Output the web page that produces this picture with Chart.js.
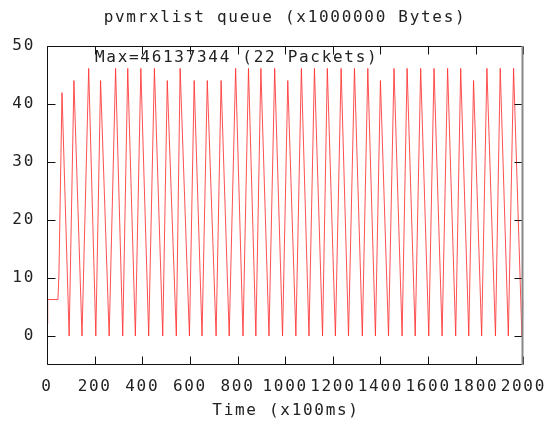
<!DOCTYPE html>
<html>
<head>
<meta charset="utf-8">
<script src="https://cdn.jsdelivr.net/npm/chart.js@4.4.0/dist/chart.umd.min.js"></script>
<style>
  html, body { margin: 0; padding: 0; background: #fff; }
  #wrap { width: 558px; height: 424px; }
</style>
</head>
<body>
<div id="wrap"><canvas id="queueChart" width="558" height="424"></canvas></div>
<script>
// tick labels
const timeTicks = [0, 200, 400, 600, 800, 1000, 1200, 1400, 1600, 1800, 2000];
const queueTicks = [0, 10, 20, 30, 40, 50];

// turning points of the queue trace (x100ms, x1000000 bytes)
const sampleTime = [
    0, 3, 46, 50, 63,
    93, 113, 147, 175, 205, 225, 261, 288, 318, 339,
    371, 394, 427, 451, 486, 505, 543, 559, 598, 618,
    651, 673, 710, 731, 765, 792, 823, 846, 877, 898,
    932, 956, 989, 1011, 1045, 1068, 1100, 1123, 1157, 1177,
    1211, 1235, 1266, 1291, 1324, 1347, 1379, 1400, 1434, 1457,
    1491, 1512, 1546, 1569, 1603, 1625, 1659, 1682, 1716, 1737,
    1771, 1791, 1825, 1847, 1883, 1903, 1937, 1959,
    1994, 2000
];
const queueSize = [
    2.10, 6.29, 6.29, 10.49, 41.94,
    0, 44.04, 0, 46.14, 0, 44.04, 0, 46.14, 0, 46.14,
    0, 46.14, 0, 46.14, 0, 44.04, 0, 46.14, 0, 44.04,
    0, 44.04, 0, 44.04, 0, 46.14, 0, 46.14, 0, 46.14,
    0, 46.14, 0, 44.04, 0, 46.14, 0, 46.14, 0, 46.14,
    0, 46.14, 0, 46.14, 0, 46.14, 0, 44.04, 0, 46.14,
    0, 46.14, 0, 46.14, 0, 46.14, 0, 46.14, 0, 46.14,
    0, 44.04, 0, 46.14, 0, 46.14, 0, 46.14,
    0, 6.29
];

const chartTitle = 'pvmrxlist queue (x1000000 Bytes)';
const xTitle = 'Time (x100ms)';
const maxLabel = 'Max=46137344 (22 Packets)';

const FONT = '16px "DejaVu Sans Mono", monospace';
const SPACING = '1.7px';

Chart.defaults.font.family = '"DejaVu Sans Mono", monospace';
Chart.defaults.font.size = 16;
Chart.defaults.color = '#222';

// the reference lettering is widely spaced
const spacingPlugin = {
    id: 'spacing',
    beforeLayout(chart) { chart.ctx.letterSpacing = SPACING; },
    beforeDraw(chart) { chart.ctx.letterSpacing = SPACING; }
};

// box, inward ticks, titles and the max note
const framePlugin = {
    id: 'frame',
    afterDatasetsDraw(chart) {
        const { ctx, chartArea: a, scales } = chart;
        const L = Math.round(a.left) + 0.5;
        const R = Math.round(a.right) - 0.5;
        const T = Math.round(a.top) + 0.5;
        const B = Math.round(a.bottom) - 0.5;
        ctx.save();
        ctx.lineWidth = 1;
        ctx.strokeStyle = '#111';
        ctx.beginPath();
        ctx.moveTo(R, T); ctx.lineTo(L, T); ctx.lineTo(L, B); ctx.lineTo(R, B);
        timeTicks.forEach(v => {
            const x = Math.round(scales.x.getPixelForValue(v)) + 0.5;
            ctx.moveTo(x, B); ctx.lineTo(x, B - 8);
            ctx.moveTo(x, T); ctx.lineTo(x, T + 8);
        });
        queueTicks.forEach(v => {
            const y = Math.round(scales.y.getPixelForValue(v)) + 0.5;
            ctx.moveTo(L, y); ctx.lineTo(L + 8, y);
            ctx.moveTo(R, y); ctx.lineTo(R - 8, y);
        });
        ctx.stroke();

        ctx.strokeStyle = '#888';
        ctx.lineWidth = 2;
        ctx.beginPath();
        ctx.moveTo(R, T - 0.5); ctx.lineTo(R, B + 0.5);
        ctx.stroke();

        ctx.letterSpacing = SPACING;
        ctx.font = FONT;
        ctx.fillStyle = '#222';
        ctx.textBaseline = 'middle';
        ctx.textAlign = 'left';
        ctx.fillText(maxLabel, 95, 58);
        ctx.textAlign = 'center';
        ctx.fillText(chartTitle, 285, 18);
        ctx.fillText(xTitle, 286, 411);
        ctx.restore();
    }
};

new Chart(document.getElementById('queueChart'), {
    type: 'line',
    data: {
        datasets: [{
            data: sampleTime.map((t, i) => ({ x: t, y: queueSize[i] })),
            borderColor: 'rgba(255, 50, 50, 0.85)',
            borderWidth: 1,
            pointRadius: 0,
            tension: 0,
            fill: false
        }]
    },
    options: {
        responsive: false,
        animation: false,
        devicePixelRatio: 1,
        layout: { padding: { left: 0, right: 22, top: 46, bottom: 0 } },
        plugins: {
            legend: { display: false },
            tooltip: { enabled: false },
            title: { display: false }
        },
        scales: {
            x: {
                type: 'linear',
                min: 0,
                max: 2000,
                grid: { display: false, drawTicks: false },
                border: { display: false },
                afterBuildTicks: s => { s.ticks = timeTicks.map(v => ({ value: v })); },
                afterFit: s => { s.height = 59; },
                ticks: { padding: 12, maxRotation: 0, autoSkip: false, callback: v => String(v) }
            },
            y: {
                min: -5,
                max: 50,
                grid: { display: false, drawTicks: false },
                border: { display: false },
                afterBuildTicks: s => { s.ticks = queueTicks.map(v => ({ value: v })); },
                afterFit: s => { s.width = 47; },
                ticks: { padding: 12, autoSkip: false, callback: v => String(v) }
            }
        }
    },
    plugins: [spacingPlugin, framePlugin]
});
</script>
</body>
</html>
